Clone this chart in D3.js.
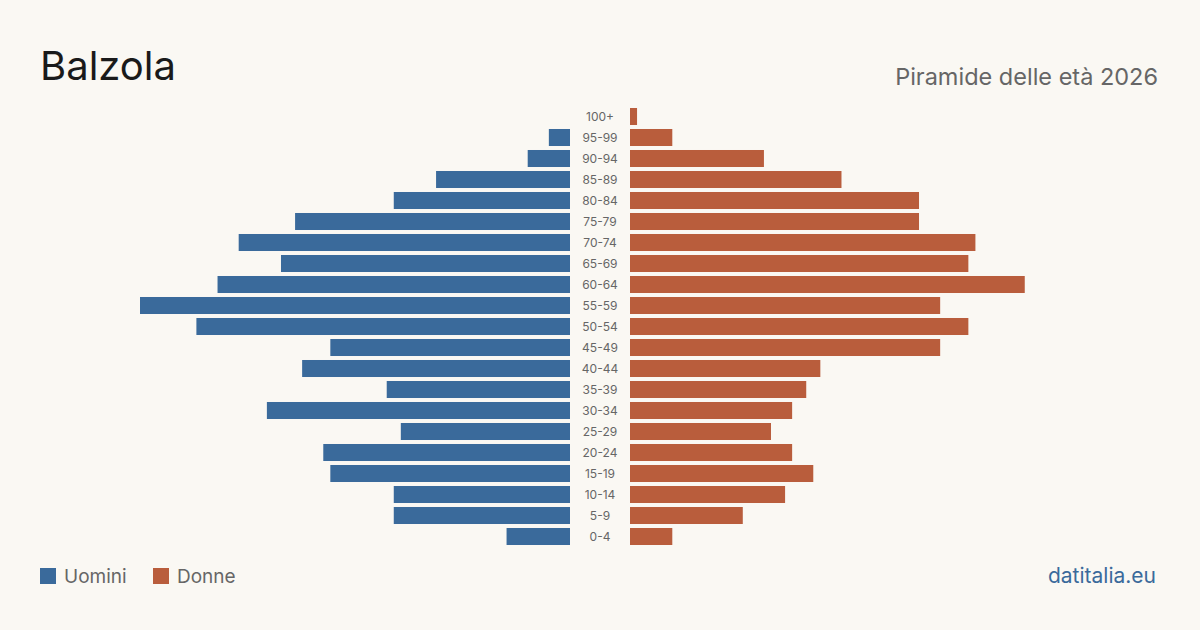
<!DOCTYPE html>
<html>
<head>
<meta charset="utf-8">
<script src="https://cdn.jsdelivr.net/npm/d3@7"></script>
<style>
  html, body { margin: 0; padding: 0; background: #faf8f3; }
  svg { display: block; font-family: Inter, "Noto Sans", sans-serif; }
</style>
</head>
<body>
<div id="chart-area"></div>
<script>
const ageGroups = ["100+", "95-99", "90-94", "85-89", "80-84", "75-79", "70-74", "65-69", "60-64", "55-59",
  "50-54", "45-49", "40-44", "35-39", "30-34", "25-29", "20-24", "15-19", "10-14", "5-9", "0-4"];
const men   = [0, 3, 6, 19, 25, 39, 47, 41, 50, 61, 53, 34, 38, 26, 43, 24, 35, 34, 25, 25, 9];
const women = [1, 6, 19, 30, 41, 41, 49, 48, 56, 44, 48, 44, 27, 25, 23, 20, 23, 26, 22, 16, 6];

const W = 1200, H = 630;
const blue = "#3a6a9b", red = "#b95d3c";
const centerX = 600, gap = 30;
const maxHalf = 430;

const svg = d3.select("#chart-area")
  .append("svg")
    .attr("width", W)
    .attr("height", H);

svg.append("rect").attr("width", W).attr("height", H).attr("fill", "#faf8f3");

const y = d3.scaleBand()
  .domain(ageGroups)
  .range([106, 547])
  .paddingInner(0.19)
  .paddingOuter(0.095);

const x = d3.scaleLinear()
  .domain([0, d3.max(men.concat(women))])
  .range([0, maxHalf]);

const rows = ageGroups.map((g, i) => ({ group: g, m: men[i], f: women[i] }));

svg.append("g").selectAll("rect")
  .data(rows)
  .enter()
  .append("rect")
    .attr("x", d => centerX - gap - x(d.m))
    .attr("y", d => y(d.group))
    .attr("width", d => x(d.m))
    .attr("height", y.bandwidth())
    .attr("fill", blue);

svg.append("g").selectAll("rect")
  .data(rows)
  .enter()
  .append("rect")
    .attr("x", centerX + gap)
    .attr("y", d => y(d.group))
    .attr("width", d => x(d.f))
    .attr("height", y.bandwidth())
    .attr("fill", red);

svg.append("g").selectAll("text")
  .data(ageGroups)
  .enter()
  .append("text")
    .attr("x", centerX)
    .attr("y", d => y(d) + y.bandwidth() / 2)
    .attr("dy", "0.35em")
    .attr("text-anchor", "middle")
    .attr("font-size", "12px")
    .attr("fill", "#666")
    .text(d => d);

svg.append("text")
  .attr("x", 40)
  .attr("y", 80)
  .attr("font-size", "40px")
  .attr("fill", "#1a1a1a")
  .text("Balzola");

svg.append("text")
  .attr("x", 1158)
  .attr("y", 85)
  .attr("text-anchor", "end")
  .attr("font-size", "23.5px")
  .attr("fill", "#666")
  .text("Piramide delle età 2026");

const legend = [{ label: "Uomini", color: blue, x: 40 }, { label: "Donne", color: red, x: 153 }];
legend.forEach(l => {
  svg.append("rect")
    .attr("x", l.x).attr("y", 568)
    .attr("width", 16).attr("height", 16)
    .attr("fill", l.color);
  svg.append("text")
    .attr("x", l.x + 24).attr("y", 583)
    .attr("font-size", "19px")
    .attr("fill", "#666")
    .text(l.label);
});

svg.append("text")
  .attr("x", 1156)
  .attr("y", 583)
  .attr("text-anchor", "end")
  .attr("font-size", "21px")
  .attr("fill", blue)
  .text("datitalia.eu");
</script>
</body>
</html>
